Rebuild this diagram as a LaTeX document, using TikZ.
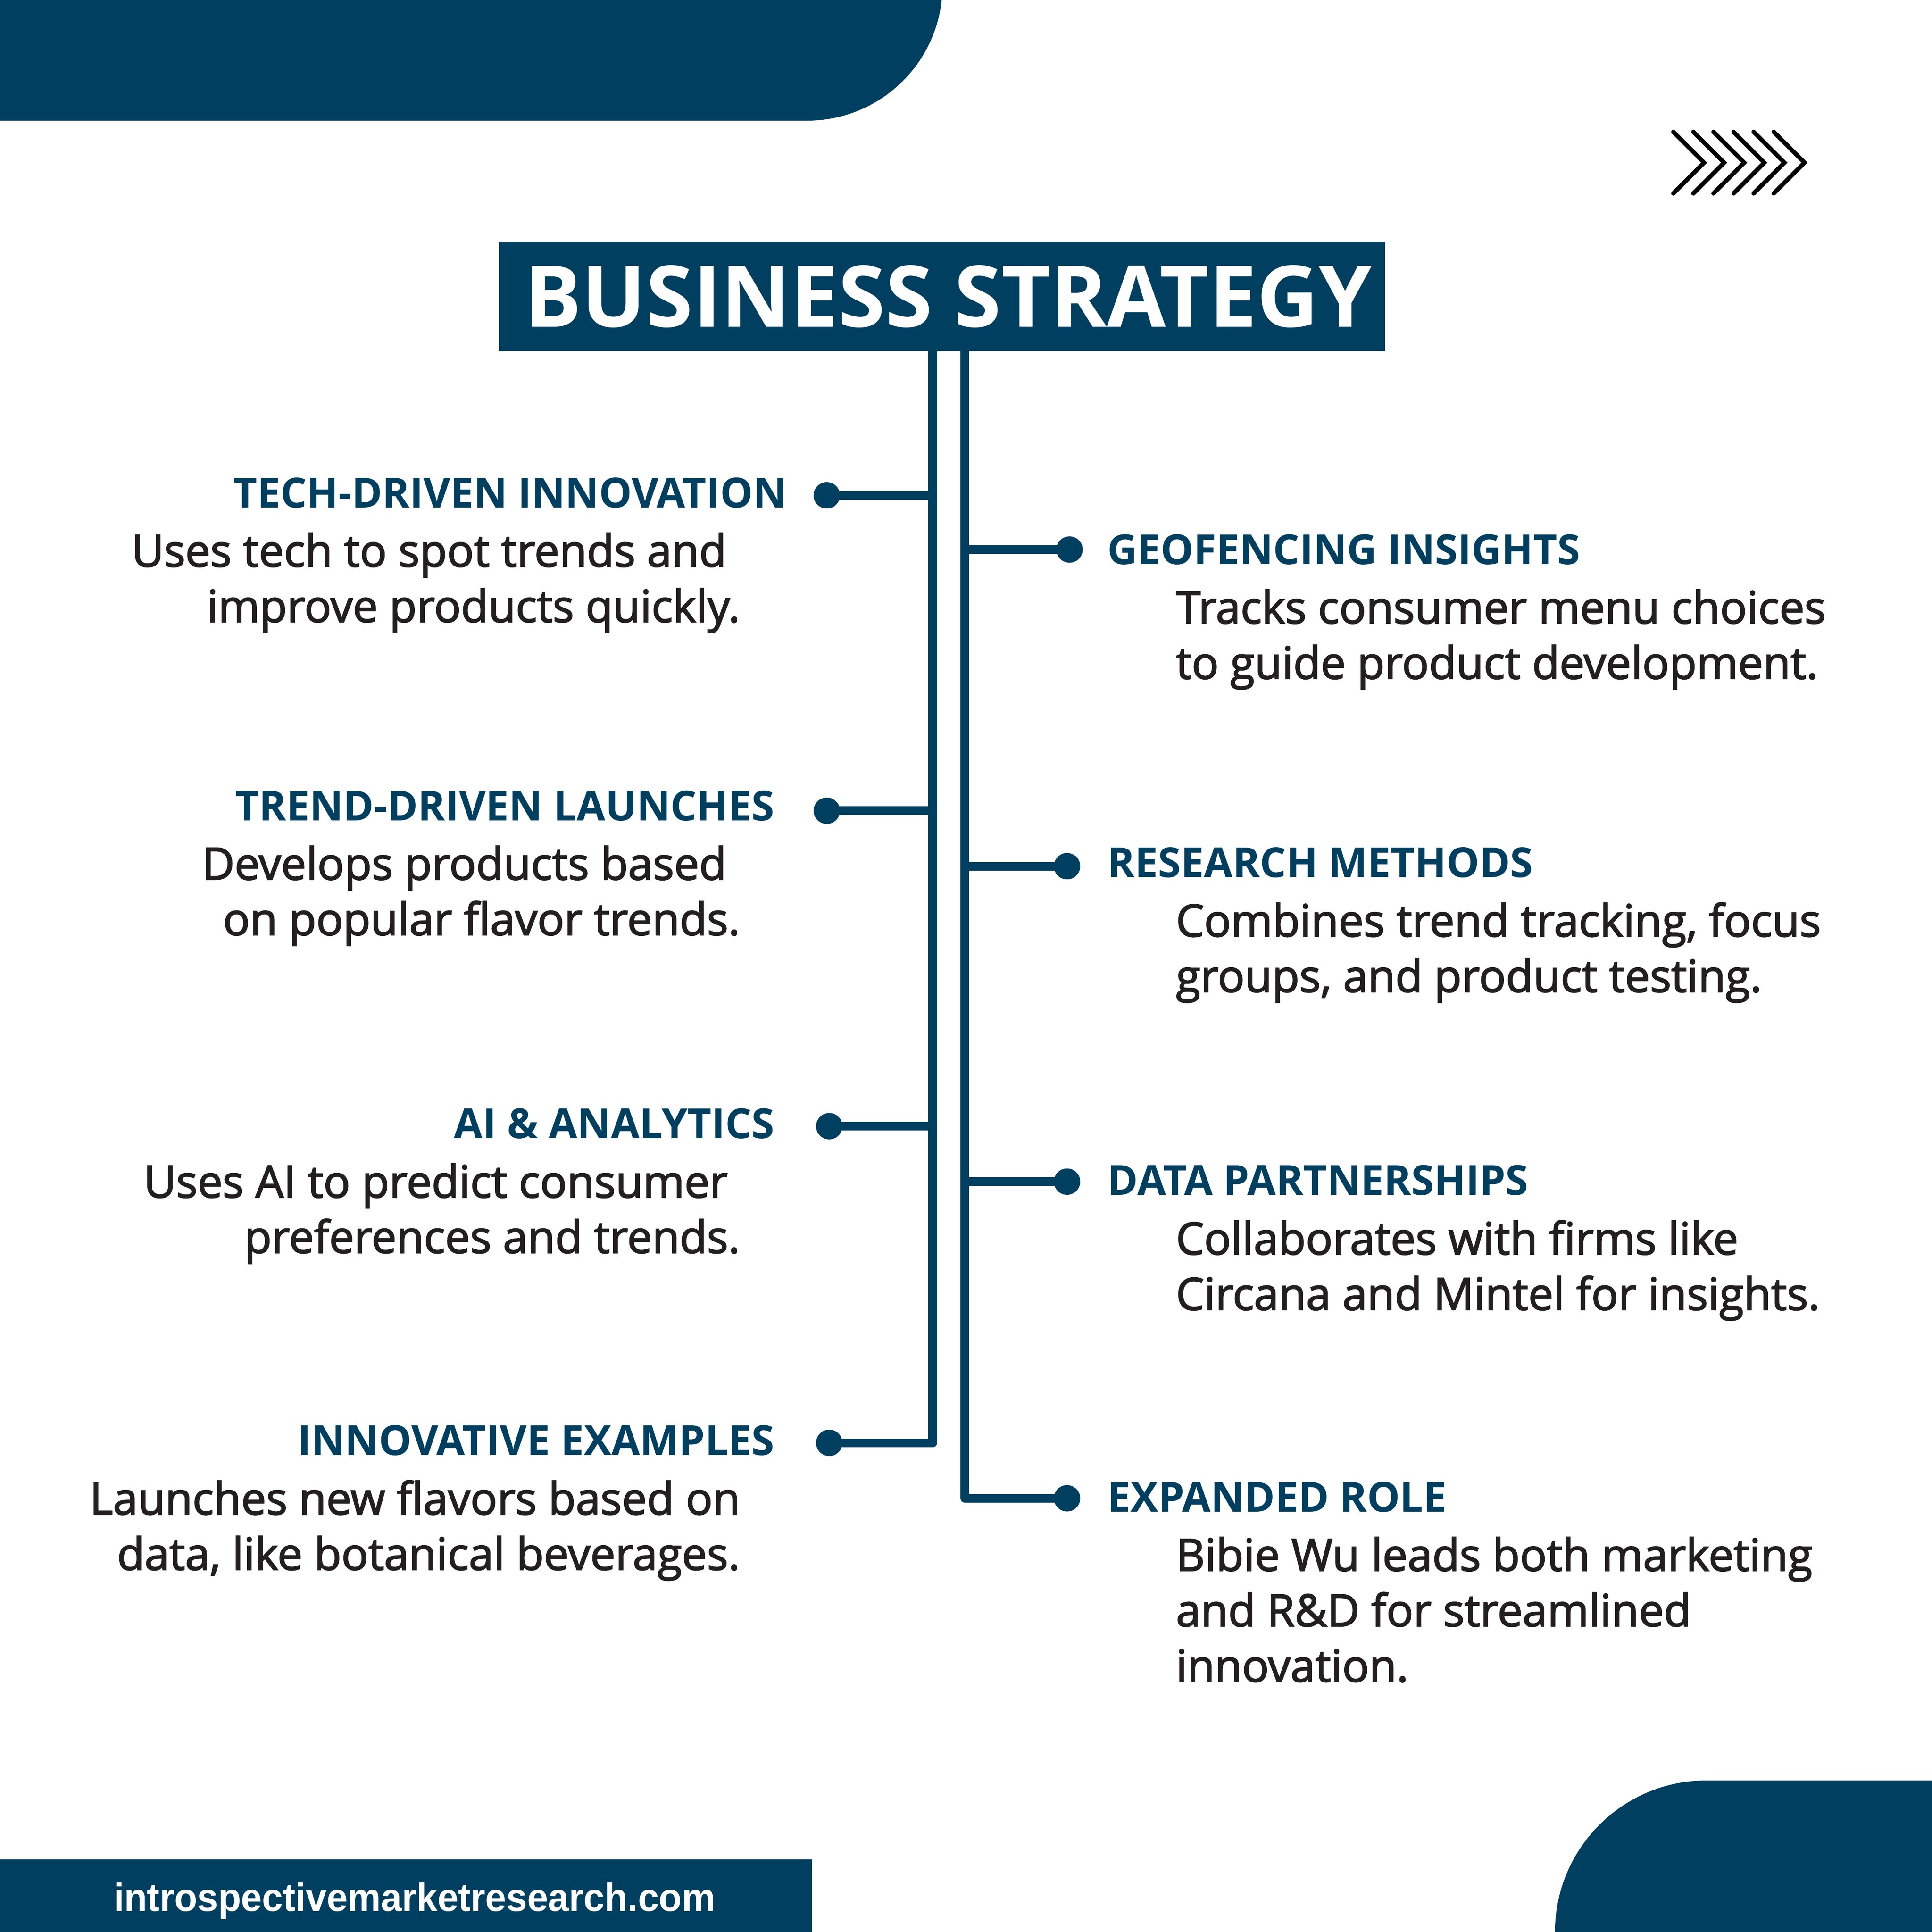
\documentclass[tikz,border=0pt]{standalone}
\usepackage{fontspec}
\setmainfont{Open Sans}
\newfontfamily\semib{Open Sans}[FakeBold=2.2]
\newfontfamily\boldf{Open Sans}[UprightFont=*,BoldFont=* Bold]
\newfontfamily\webf{Liberation Sans}[FakeStretch=0.953]
\definecolor{navy}{HTML}{003F5F}
\definecolor{ink}{HTML}{231F20}
\tikzset{
  x=0.5pt,y=-0.5pt,
  titlebox/.style={fill=navy,text=white,inner sep=0pt,minimum width=359.5pt,minimum height=44.5pt,font=\boldf\bfseries\fontsize{34.6}{35}\selectfont},
  head/.style={text=navy,inner sep=0pt,font=\boldf\bfseries\fontsize{16.8}{20}\selectfont},
  bodyl/.style={text=ink,inner sep=0pt,align=right,font=\semib\fontsize{18.1}{22.5}\selectfont},
  bodyr/.style={text=ink,inner sep=0pt,align=left,font=\semib\fontsize{18.1}{22.5}\selectfont},
  dotn/.style={circle,fill=navy,inner sep=0pt,minimum size=10.7pt},
  trunk/.style={draw=navy,line width=3.5pt},
  chev/.style={draw=black,line width=1.75pt,line cap=round,miter limit=10},
}
\begin{document}
\begin{tikzpicture}
\useasboundingbox (0,0) rectangle (1568,1568);
\fill[navy] (0,0) -- (764.3,0) arc[start angle=-6.3,end angle=-90,radius=55pt] -- (0,98) -- cycle;
\fill[navy] (1568,1568) -- (1262,1568) arc[start angle=180,end angle=90,radius=61.5pt] -- (1568,1445) -- cycle;
\fill[navy] (0,1509) rectangle (659,1568);
\node[text=white,inner sep=0pt,anchor=base west,font=\webf\bfseries\fontsize{16}{16}\selectfont] (web) at (92,1551) {introspectivemarketresearch.com};
\foreach \i in {0,...,5}
  \draw[chev] (1358+\i*16.3,107) -- (1383+\i*16.3,132) -- (1358+\i*16.3,157);
\node[titlebox] (title) at (764.5,240.5) {\hspace*{5pt}BUSINESS STRATEGY};
\coordinate (tl) at (757,285);
\coordinate (tr) at (783,285);
\coordinate (bl) at (757,1171);
\coordinate (br) at (783,1216);
\draw[trunk] (tl) -- (bl);
\draw[trunk] (tr) -- (br);
% left
\node[dotn] (dl1) at (671,402) {};
\node[dotn] (dl2) at (671,658) {};
\node[dotn] (dl3) at (673,914) {};
\node[dotn] (dl4) at (673,1171) {};
\foreach \n in {1,2,3}
  \draw[trunk] (dl\n.center) -- (dl\n.center -| tl);
\draw[trunk,line cap=round] (dl4.center) -- (bl);
% right
\node[dotn] (dr1) at (868,446) {};
\node[dotn] (dr2) at (866,703) {};
\node[dotn] (dr3) at (866,959) {};
\node[dotn] (dr4) at (866,1216) {};
\foreach \n in {1,2,3}
  \draw[trunk] (dr\n.center) -- (dr\n.center -| tr);
\draw[trunk,line cap=round] (dr4.center) -- (br);
% left labels
\node[head,anchor=base east] (h1) at (639,412) {TECH-DRIVEN INNOVATION};
\node[bodyl,anchor=north east] (b1) at (601,432) {Uses tech to spot trends and\hspace*{5.5pt}\\improve products quickly.};
\node[head,anchor=base east] (h2) at (629,666) {TREND-DRIVEN LAUNCHES};
\node[bodyl,anchor=north east] (b2) at (601,686) {Develops products based\hspace*{5.5pt}\\on popular flavor trends.};
\node[head,anchor=base east] (h3) at (629,924) {AI \& ANALYTICS};
\node[bodyl,anchor=north east] (b3) at (601,944) {Uses AI to predict consumer\hspace*{5pt}\\preferences and trends.};
\node[head,anchor=base east] (h4) at (629,1181) {INNOVATIVE EXAMPLES};
\node[bodyl,anchor=north east] (b4) at (601,1201) {Launches new flavors based on\\data, like botanical beverages.};
% right labels
\node[head,anchor=base west] (h5) at (898.5,458) {GEOFENCING INSIGHTS};
\node[bodyr,anchor=north west] (b5) at (954,478) {Tracks consumer menu choices\\to guide product development.};
\node[head,anchor=base west] (h6) at (898.5,712) {RESEARCH METHODS};
\node[bodyr,anchor=north west] (b6) at (954,732) {Combines trend tracking, focus\\groups, and product testing.};
\node[head,anchor=base west] (h7) at (898.5,970) {DATA PARTNERSHIPS};
\node[bodyr,anchor=north west] (b7) at (954,990) {Collaborates with firms like\\Circana and Mintel for insights.};
\node[head,anchor=base west] (h8) at (898.5,1227) {EXPANDED ROLE};
\node[bodyr,anchor=north west] (b8) at (954,1247) {Bibie Wu leads both marketing\\and R\&D for streamlined\\innovation.};
\end{tikzpicture}
\end{document}
